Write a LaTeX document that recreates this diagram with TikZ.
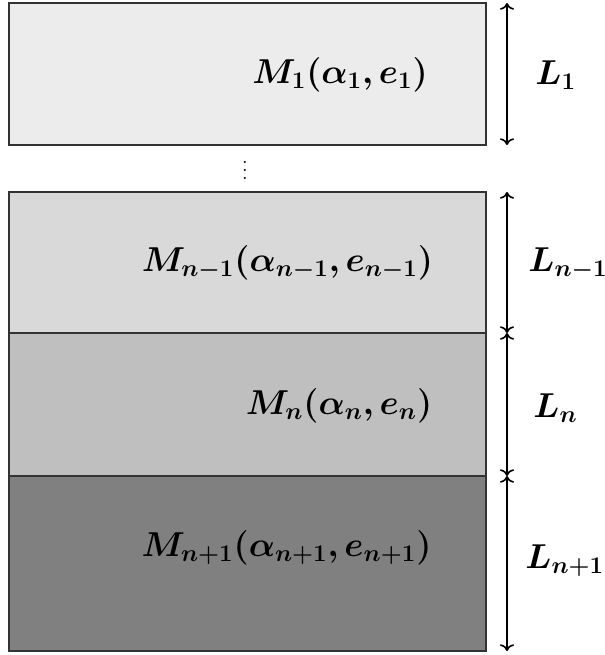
\documentclass[tikz,border=0pt]{standalone}
\usepackage{amsmath}
\usepackage{bm}
\usetikzlibrary{arrows.meta, calc, positioning}

\begin{document}
\begin{tikzpicture}[x=0.5pt, y=-0.5pt, font=\LARGE,
    layer/.style={draw=black!80, thick, inner sep=0pt, outer sep=0pt, minimum width=238.5pt, anchor=north west},
    span/.style={<->, thick, black},
    lbl/.style={inner sep=0pt}]
\useasboundingbox (0,0) rectangle (605,655);

%
\node[layer, fill=gray!15, minimum height=71pt]   (M1)  at (9,3)   {};
\node[layer, fill=gray!30, minimum height=70.5pt] (Mn1) at (9,192) {};
\node[layer, fill=gray!50, minimum height=71.5pt] (Mn)  at (Mn1.south west) {};
\node[layer, fill=gray,    minimum height=87.5pt] (Mn2) at (Mn.south west)  {};
\node[lbl, font=\normalsize\boldmath] (dots) at (245,164) {$\vdots$};

%
\node[lbl] (tM1)  at ($(M1.center)+(92.5,1)$)  {$\bm{M_1(\alpha_1,e_1)}$};
\node[lbl] (tMn1) at ($(Mn1.center)+(40,0)$)   {$\bm{M_{n-1}(\alpha_{n-1},e_{n-1})}$};
\node[lbl] (tMn)  at ($(Mn.center)+(91.5,1.5)$) {$\bm{M_n(\alpha_n,e_n)}$};
\node[lbl] (tMn2) at ($(Mn2.center)+(39,-15.5)$) {$\bm{M_{n+1}(\alpha_{n+1},e_{n+1})}$};

%
\draw[span] ([xshift=10.5pt]M1.north east)  -- ([xshift=10.5pt]M1.south east);
\draw[span] ([xshift=10.5pt]Mn1.north east) -- ([xshift=10.5pt]Mn1.south east);
\draw[span] ([xshift=10.5pt]Mn.north east)  -- ([xshift=10.5pt]Mn.south east);
\draw[span] ([xshift=10.5pt]Mn2.north east) -- ([xshift=10.5pt]Mn2.south east);

\node[lbl, anchor=west] (L1)  at ($(M1.east)+(49,1)$)   {$\bm{L_1}$};
\node[lbl, anchor=west] (Ln1) at ($(Mn1.east)+(42,1.5)$) {$\bm{L_{n-1}}$};
\node[lbl, anchor=west] (Ln)  at ($(Mn.east)+(47,3.5)$)  {$\bm{L_n}$};
\node[lbl, anchor=west] (Ln2) at ($(Mn2.east)+(39,-2.5)$) {$\bm{L_{n+1}}$};
\end{tikzpicture}
\end{document}
